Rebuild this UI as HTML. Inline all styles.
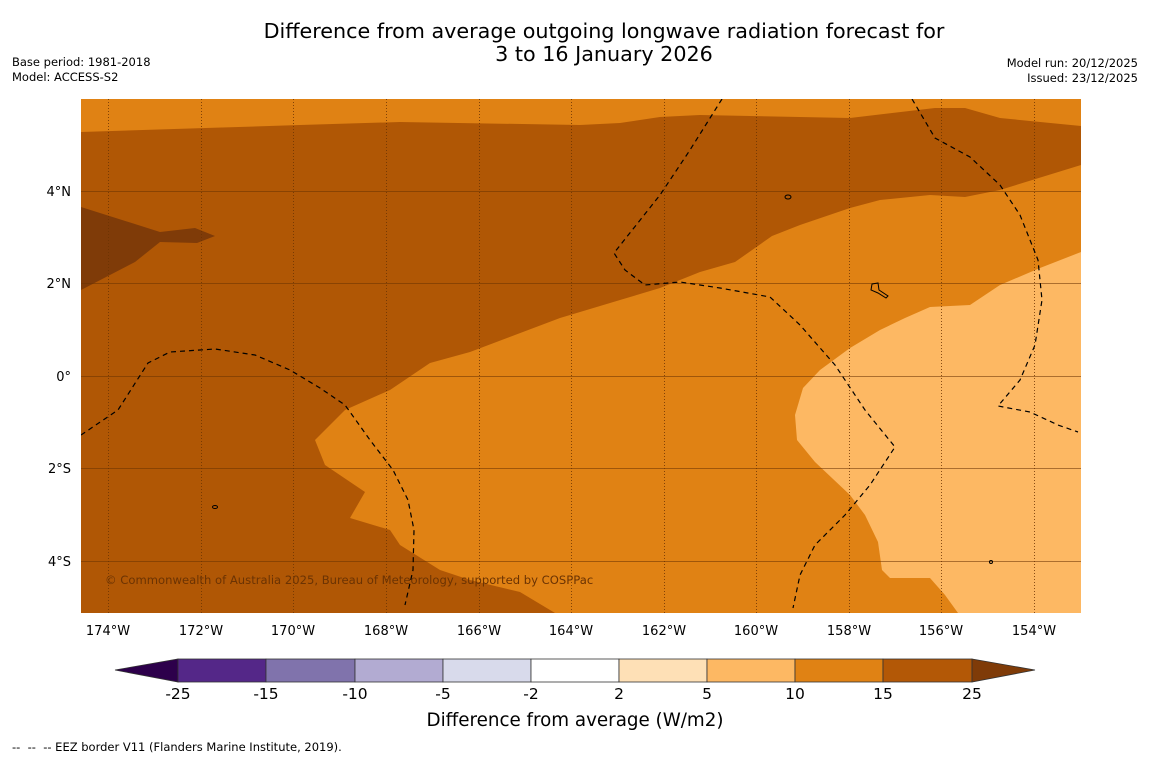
<!DOCTYPE html>
<html><head><meta charset="utf-8"><style>
body{margin:0;background:#fff;width:1150px;height:758px;overflow:hidden;font-family:"DejaVu Sans","Liberation Sans",sans-serif;}
svg text{font-family:"DejaVu Sans","Liberation Sans",sans-serif;}
</style></head><body>
<svg width="1150" height="758">
<text x="604" y="38" font-size="20.7" text-anchor="middle">Difference from average outgoing longwave radiation forecast for</text>
<text x="604" y="61" font-size="20.7" text-anchor="middle">3 to 16 January 2026</text>
<text x="12" y="66" font-size="11.5">Base period: 1981-2018</text>
<text x="12" y="81" font-size="11.5">Model: ACCESS-S2</text>
<text x="1138" y="67" font-size="11.5" text-anchor="end">Model run: 20/12/2025</text>
<text x="1138" y="82" font-size="11.5" text-anchor="end">Issued: 23/12/2025</text>
<defs><clipPath id="mc"><rect x="81" y="99" width="1000" height="514"/></clipPath></defs>
<g clip-path="url(#mc)">
<rect x="81" y="99" width="1000" height="514" fill="#b05705"/>
<polygon fill="#e08214" points="81,99 1081,99 1081,126 1000,118 965,108 935,108 850,118 700,115 660,117 620,123 580,125 400,122 300,125 81,132"/>
<polygon fill="#7f3b08" points="81,207 160,232 195,228 215,236 197,243 160,242 135,262 81,290"/>
<polygon fill="#e08214" points="1081,165 1000,190 965,197 930,195 880,200 850,208 800,225 772,236 735,262 700,272 660,288 620,300 560,318 470,352 430,363 390,390 345,410 315,440 325,465 365,492 350,518 390,530 400,545 440,570 470,580 520,592 555,613 1081,613"/>
<polygon fill="#fdb863" points="1081,252 1040,268 1000,285 970,305 930,307 905,318 880,330 850,348 820,370 803,388 795,415 797,440 815,462 850,495 865,515 878,542 882,570 890,578 930,578 945,595 958,613 1081,613"/>
<g stroke="#6b3303" stroke-width="1">
<g stroke-dasharray="1,2" opacity="0.8">
<line x1="108.5" y1="99" x2="108.5" y2="613"/><line x1="201.5" y1="99" x2="201.5" y2="613"/><line x1="293.5" y1="99" x2="293.5" y2="613"/><line x1="386.5" y1="99" x2="386.5" y2="613"/><line x1="479.5" y1="99" x2="479.5" y2="613"/><line x1="571.5" y1="99" x2="571.5" y2="613"/><line x1="664.5" y1="99" x2="664.5" y2="613"/><line x1="756.5" y1="99" x2="756.5" y2="613"/><line x1="849.5" y1="99" x2="849.5" y2="613"/><line x1="941.5" y1="99" x2="941.5" y2="613"/><line x1="1034.5" y1="99" x2="1034.5" y2="613"/>
</g>
<g opacity="0.55">
<line x1="81" y1="191.5" x2="1081" y2="191.5"/><line x1="81" y1="283.5" x2="1081" y2="283.5"/><line x1="81" y1="376.5" x2="1081" y2="376.5"/><line x1="81" y1="468.5" x2="1081" y2="468.5"/><line x1="81" y1="561.5" x2="1081" y2="561.5"/>
</g></g>
<g fill="none" stroke="#000" stroke-width="1.2" stroke-dasharray="5,4">
<polyline points="81,435 118,410 148,363 170,352 215,349 255,355 290,370 320,388 345,405 370,440 393,470 408,500 414,530 413,570 405,605"/>
<polyline points="722,99 690,150 660,195 614,253 625,270 645,285 680,282 720,288 770,297 800,325 835,365 865,410 895,447 870,485 845,515 815,545 800,575 793,608"/>
<polyline points="912,99 935,138 970,157 1000,185 1020,215 1038,260 1042,300 1035,345 1020,380 998,406 1030,412 1058,425 1078,432"/>
</g>
<g fill="none" stroke="#000" stroke-width="1">
<ellipse cx="788" cy="197" rx="3" ry="2"/><path d="M872,284 L878,283 L879,290 L888,296 L886,298 L878,293 L871,290Z"/><ellipse cx="215" cy="507" rx="2.5" ry="1.5"/><ellipse cx="991" cy="562" rx="1.5" ry="1.5"/>
</g>
<text x="105" y="584" font-size="11.6" fill="#6b3303">© Commonwealth of Australia 2025, Bureau of Meteorology, supported by COSPPac</text>
</g>
<g font-size="13" fill="#000" text-anchor="end">
<text x="71" y="196">4°N</text><text x="71" y="288">2°N</text><text x="71" y="381">0°</text><text x="71" y="473">2°S</text><text x="71" y="566">4°S</text>
</g>
<g font-size="13" fill="#000" text-anchor="middle">
<text x="108" y="635">174°W</text><text x="201" y="635">172°W</text><text x="293" y="635">170°W</text><text x="386" y="635">168°W</text><text x="479" y="635">166°W</text><text x="571" y="635">164°W</text><text x="664" y="635">162°W</text><text x="756" y="635">160°W</text><text x="849" y="635">158°W</text><text x="941" y="635">156°W</text><text x="1034" y="635">154°W</text>
</g>
<g stroke="#333" stroke-width="0.8">
<polygon points="115,670 178,659 178,682" fill="#2d004b"/>
<rect x="178" y="659" width="88" height="23" fill="#542788"/>
<rect x="266" y="659" width="89" height="23" fill="#8073ac"/>
<rect x="355" y="659" width="88" height="23" fill="#b2abd2"/>
<rect x="443" y="659" width="88" height="23" fill="#d8daeb"/>
<rect x="531" y="659" width="88" height="23" fill="#ffffff"/>
<rect x="619" y="659" width="88" height="23" fill="#fee0b6"/>
<rect x="707" y="659" width="88" height="23" fill="#fdb863"/>
<rect x="795" y="659" width="88" height="23" fill="#e08214"/>
<rect x="883" y="659" width="89" height="23" fill="#b35806"/>
<polygon points="972,659 1035,670 972,682" fill="#7f3b08"/>
</g>
<g font-size="15.5" text-anchor="middle">
<text x="178" y="699">-25</text><text x="266" y="699">-15</text><text x="355" y="699">-10</text><text x="443" y="699">-5</text><text x="531" y="699">-2</text><text x="619" y="699">2</text><text x="707" y="699">5</text><text x="795" y="699">10</text><text x="883" y="699">15</text><text x="972" y="699">25</text>
</g>
<text x="575" y="726" font-size="18.3" text-anchor="middle">Difference from average (W/m2)</text>
<text x="12" y="751" font-size="11.5" style="white-space:pre" xml:space="preserve">--  --  -- EEZ border V11 (Flanders Marine Institute, 2019).</text>
</svg>
</body></html>
